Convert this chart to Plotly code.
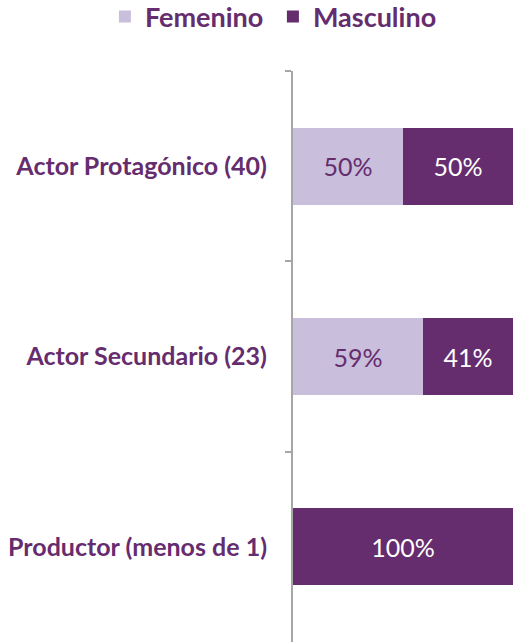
import plotly.graph_objects as go

categories = ["Actor Protagónico (40)", "Actor Secundario (23)", "Productor (menos de 1)"]
femenino = [50, 59, 0]
masculino = [50, 41, 100]
series_names = ["Femenino", "Masculino"]

col_fem = "#C9BEDB"
col_mas = "#652C6E"

def labels(vals):
    return [f"{v}%" if v > 0 else "" for v in vals]

fig = go.Figure()
fig.add_trace(go.Bar(
    y=categories, x=femenino, name=series_names[0], orientation="h",
    marker=dict(color=col_fem, line=dict(width=0)),
    text=labels(femenino), textposition="inside", insidetextanchor="middle",
    textfont=dict(family="Lato", size=25, color=col_mas),
    hoverinfo="skip",
))
fig.add_trace(go.Bar(
    y=categories, x=masculino, name=series_names[1], orientation="h",
    marker=dict(color=col_mas, line=dict(width=0)),
    text=labels(masculino), textposition="inside", insidetextanchor="middle",
    textfont=dict(family="Lato", size=25, color="white"),
    hoverinfo="skip",
))

fig.update_layout(
    width=513, height=643,
    barmode="stack", bargap=0.595,
    margin=dict(l=293, r=0, t=71, b=1, autoexpand=False),
    plot_bgcolor="white", paper_bgcolor="white",
    showlegend=True,
    legend=dict(orientation="h", x=-0.855, xanchor="left",
                y=1.0946, yanchor="middle",
                font=dict(family="Lato", size=27, color=col_mas, weight="bold"),
                itemwidth=30, entrywidth=123, traceorder="normal"),
    xaxis=dict(range=[0, 100], visible=False, fixedrange=True),
    yaxis=dict(autorange="reversed", type="category", showline=True, linecolor="#A6A6A6",
               linewidth=2, ticks="outside", tickson="boundaries", ticklen=6,
               tickcolor="#A6A6A6", tickwidth=2, showgrid=False, ticklabelstandoff=19,
               tickfont=dict(family="Lato", size=25, color=col_mas, weight="bold")),
)

fig.write_html("out.html", config={"displayModeBar": False},
               post_script="document.body.style.margin='0';document.body.style.overflow='hidden';")
